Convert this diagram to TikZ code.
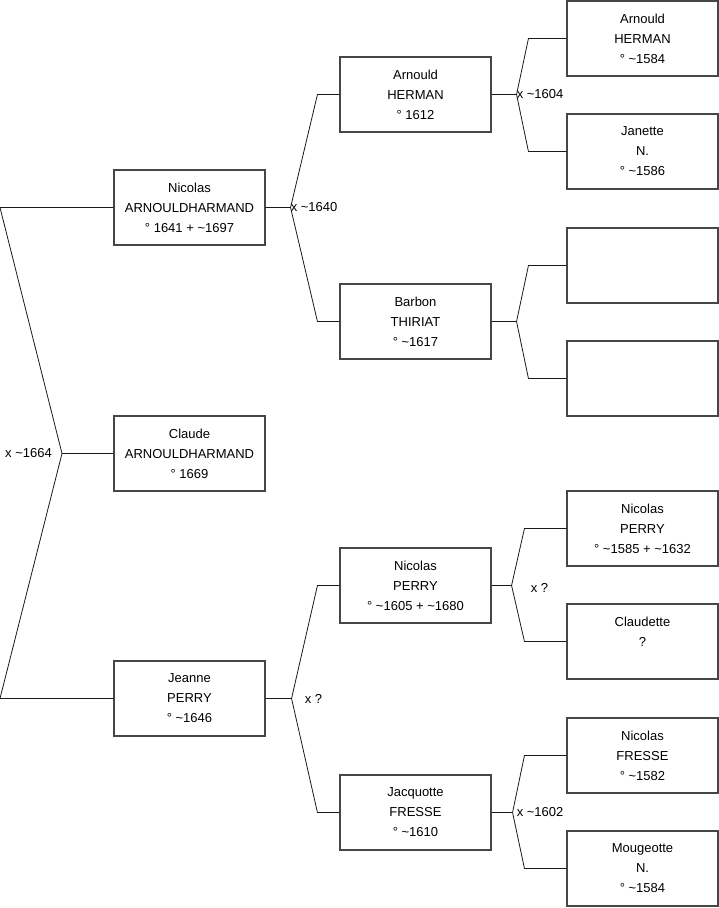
\documentclass[tikz,border=0pt]{standalone}
\usepackage{fontspec}
\setmainfont{Liberation Sans}
\usepackage{tikz}
\usetikzlibrary{positioning, calc}
\definecolor{boxline}{RGB}{70, 70, 70}
\definecolor{linkline}{RGB}{25, 25, 25}
\newcommand{\ap}{\textasciitilde}

\begin{document}
\begin{tikzpicture}[x=1pt, y=-1pt, font=\fontsize{13}{20}\selectfont,
    person/.style={draw=boxline, line width=1.1pt, minimum width=151pt, minimum height=75pt, inner sep=0pt, align=center},
    link/.style={draw=linkline, line width=0.8pt},
    union/.style={inner sep=0pt, anchor=west}]
        \useasboundingbox (0,0) rectangle (719,908);
        % children
        \node[person] (nic) at (189.5,207.5) {Nicolas\\ARNOULDHARMAND\\° 1641 + \ap1697};
        \node[person] (cla) at (189.5,453.5) {Claude\\ARNOULDHARMAND\\° 1669};
        \node[person] (jea) at (189.5,698.5) {Jeanne\\PERRY\\° \ap1646};
        % parents
        \node[person] (arn) at (415.5,94.5) {Arnould\\HERMAN\\° 1612};
        \node[person] (bar) at (415.5,321.5) {Barbon\\THIRIAT\\° \ap1617};
        \node[person] (npe) at (415.5,585.5) {Nicolas\\PERRY\\° \ap1605 + \ap1680};
        \node[person] (jac) at (415.5,812.5) {Jacquotte\\FRESSE\\° \ap1610};
        % grandparents
        \node[person] (ah) at (642.5,38.5) {Arnould\\HERMAN\\° \ap1584};
        \node[person] (jn) at (642.5,151.5) {Janette\\N.\\° \ap1586};
        \node[person] (e1) at (642.5,265.5) {};
        \node[person] (e2) at (642.5,378.5) {};
        \node[person] (np2) at (642.5,528.5) {Nicolas\\PERRY\\° \ap1585 + \ap1632};
        \node[person] (cl) at (642.5,641.5) {Claudette\\?\\\mbox{}};
        \node[person] (nf) at (642.5,755.5) {Nicolas\\FRESSE\\° \ap1582};
        \node[person] (mo) at (642.5,868.5) {Mougeotte\\N.\\° \ap1584};

        \foreach \kid/\dad/\mum/\vx/\sx in {nic/arn/bar/25/22, jea/npe/jac/26/22, arn/ah/jn/25/38,
            bar/e1/e2/25/38, npe/np2/cl/20/42, jac/nf/mo/21/42}
        {
            \coordinate (v-\kid) at ([xshift=\vx pt]\kid.east);
            \draw[link] (\kid.east) -- (v-\kid) -- ([xshift=-\sx pt]\dad.west) -- (\dad.west);
            \draw[link] (v-\kid) -- ([xshift=-\sx pt]\mum.west) -- (\mum.west);
        }

        % siblings
        \coordinate (top) at (0,207.5);
        \coordinate (bot) at (0,698.5);
        \coordinate (fork) at (62,453.5);
        \draw[link] (nic.west) -- (top) -- (fork) -- (bot) -- (jea.west);
        \draw[link] (fork) -- (cla.west);

        \node[union, anchor=east] (u0) at ([xshift=-10pt]fork) {x \ap1664};
        \node[union] (u1) at (v-nic) {x \ap1640};
        \node[union] (u2) at ([xshift=13pt]v-jea) {x ?};
        \node[union] (u3) at (v-arn) {x \ap1604};
        \node[union] (u4) at ([xshift=19pt, yshift=-2pt]v-npe) {x ?};
        \node[union] (u5) at ([xshift=4pt]v-jac) {x \ap1602};
    \end{tikzpicture}
\end{document}
